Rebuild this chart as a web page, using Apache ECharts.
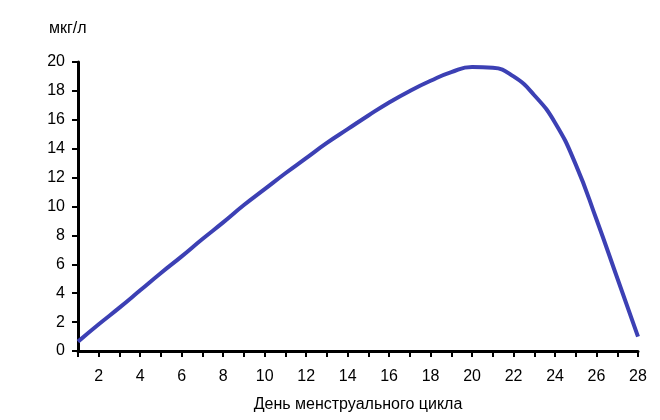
<!DOCTYPE html>
<html>
<head>
<meta charset="utf-8">
<script src="https://cdn.jsdelivr.net/npm/echarts@6/dist/echarts.min.js"></script>
<style>
html,body{margin:0;padding:0;background:#fff;}
#c{width:660px;height:420px;}
</style>
</head>
<body>
<div id="c"></div>
<script>
var days = [1,2,3,4,5,6,7,8,9,10,11,12,13,14,15,16,17,18,19,20,21,22,23,24,25,26,27,28];
var values = [0.65,1.85,3.0,4.2,5.4,6.55,7.75,8.9,10.1,11.2,12.3,13.35,14.4,15.35,16.3,17.2,18.0,18.7,19.3,19.65,19.6,19.0,17.7,15.8,12.9,9.1,5.05,1.0];
var yUnit = 'мкг/л';
var xTitle = 'День менструального цикла';

var chart = echarts.init(document.getElementById('c'), null, {renderer:'canvas'});
var font = '"Liberation Sans", Arial, sans-serif';
chart.setOption({
  animation:false,
  backgroundColor:'#ffffff',
  grid:{left:78,right:22,top:62,bottom:69},
  graphic:[{type:'text',left:49,top:21,style:{text:yUnit,font:'16px '+font,fill:'#000'}}],
  xAxis:{
    type:'value',min:1,max:28,interval:1,
    name:xTitle,nameLocation:'middle',nameGap:46,
    nameTextStyle:{color:'#000',fontSize:16,fontFamily:font},
    axisLine:{lineStyle:{color:'#000',width:3}},
    axisTick:{show:true,length:6,lineStyle:{color:'#000',width:2}},
    axisLabel:{color:'#000',fontSize:16,fontFamily:font,margin:18,
      formatter:function(v){return v%2===0?String(v):'';}},
    splitLine:{show:false}
  },
  yAxis:{
    type:'value',min:0,max:20,interval:2,
    axisLine:{show:true,lineStyle:{color:'#000',width:3}},
    axisTick:{show:true,length:6,lineStyle:{color:'#000',width:2}},
    axisLabel:{color:'#000',fontSize:16,fontFamily:font,margin:13},
    splitLine:{show:false}
  },
  series:[{
    type:'line',
    data:days.map(function(d,i){return [d,values[i]];}),
    smooth:0.5,
    showSymbol:false,
    lineStyle:{color:'#3c40b4',width:4}
  }]
});
</script>
</body>
</html>
